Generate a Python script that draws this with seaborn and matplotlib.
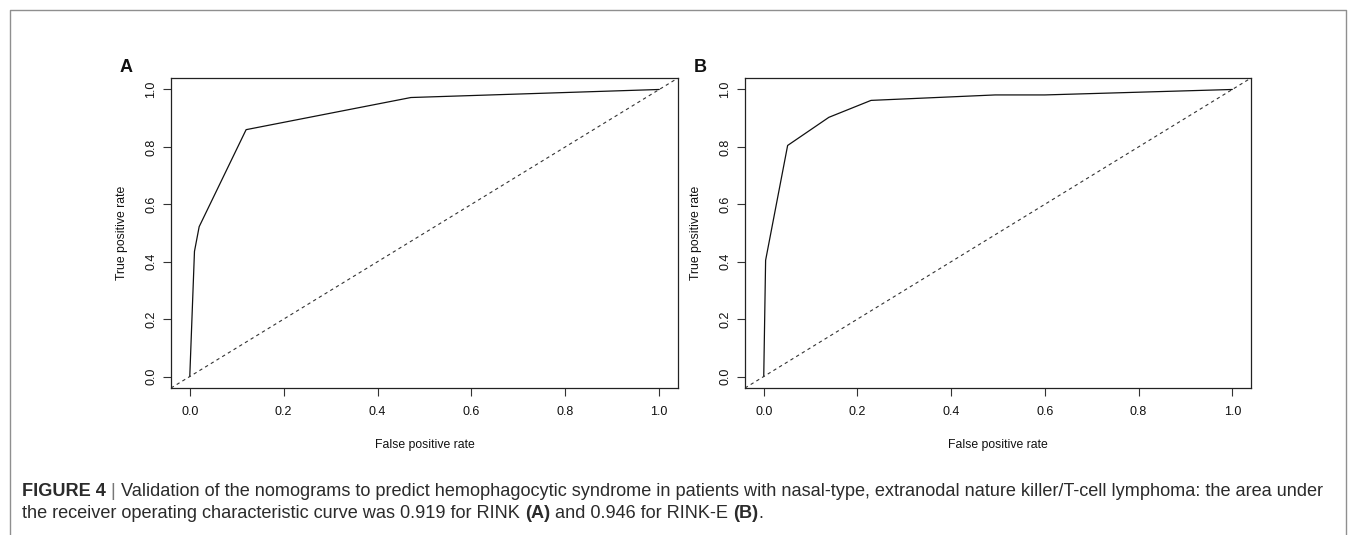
import matplotlib
matplotlib.use('Agg')
import matplotlib.pyplot as plt
import seaborn as sns
import pandas as pd
from matplotlib.lines import Line2D

sns.set_theme(style='white')
plt.rcParams['font.family'] = ['Liberation Sans', 'DejaVu Sans']

# ROC curve values
fpr_a = [0.0, 0.010, 0.020, 0.120, 0.471, 1.0]
tpr_a = [0.0, 0.436, 0.522, 0.860, 0.972, 1.0]

fpr_b = [0.0, 0.004, 0.051, 0.139, 0.229, 0.494, 0.60, 1.0]
tpr_b = [0.0, 0.405, 0.805, 0.903, 0.962, 0.981, 0.981, 1.0]

chance = [0.0, 1.0]
ticks = [0.0, 0.2, 0.4, 0.6, 0.8, 1.0]
panel_labels = ['A', 'B']

TEXT_DARK = '#2b2b2b'
FRAME_GRAY = '#8f8f8f'

W, H = 1355, 535
fig = plt.figure(figsize=(W / 100, H / 100), dpi=100)

# axes boxes in pixels: left, right, top, bottom
boxes = [(171, 678, 78, 388), (745, 1251, 78, 388)]
curves = [(fpr_a, tpr_a), (fpr_b, tpr_b)]

for (l, r, t, b), (fx, ty), lab in zip(boxes, curves, panel_labels):
    ax = fig.add_axes([l / W, 1 - b / H, (r - l) / W, (b - t) / H])
    df = pd.DataFrame({'fpr': fx, 'tpr': ty})
    sns.lineplot(data=df, x='fpr', y='tpr', ax=ax, sort=False, estimator=None,
                 color='#111111', lw=0.9)
    ax.axline((chance[0], chance[0]), (chance[1], chance[1]), color='#333333',
              lw=0.8, linestyle=(0, (3, 3)))
    ax.set_xlim(-0.04, 1.04)
    ax.set_ylim(-0.04, 1.04)
    ax.set_xticks(ticks)
    ax.set_yticks(ticks)
    ax.set_xticklabels([f"{v:.1f}" for v in ticks])
    ax.set_yticklabels([f"{v:.1f}" for v in ticks], rotation=90, va='center')
    ax.tick_params(axis='both', direction='out', length=6, width=0.8,
                   color='#333333', labelsize=9, labelcolor='#111111', pad=4,
                   bottom=True, left=True)
    ax.tick_params(axis='x', pad=7)
    for sp in ax.spines.values():
        sp.set_color('#222222')
        sp.set_linewidth(0.9)
    ax.set_xlabel('False positive rate', fontsize=8.8, color='#111111', labelpad=15)
    ax.set_ylabel('True positive rate', fontsize=8.8, color='#111111', labelpad=12)
    ax.grid(False)
    fig.text((l - 51) / W, 1 - 68 / H, lab, fontsize=13, fontweight='bold',
             color='#111111', va='center', ha='left')

# outer frame (left, top, right)
x0, x1, y0 = 10 / W, 1346 / W, 1 - 10 / H
fig.add_artist(Line2D([x0, x0, x1, x1], [0, y0, y0, 0], color=FRAME_GRAY, lw=1.0,
                      transform=fig.transFigure))

# caption with mixed bold pieces
renderer = fig.canvas.get_renderer()


def caption_line(pieces, x_px, y_px, size=13.1):
    x = x_px
    for txt, bold, col in pieces:
        t = fig.text(x / W, 1 - y_px / H, txt, fontsize=size,
                     fontweight='bold' if bold else 'normal', color=col,
                     ha='left', va='center')
        x += t.get_window_extent(renderer=renderer).width


caption_line([
    ('FIGURE 4', True, TEXT_DARK),
    (' | ', False, '#777777'),
    ('Validation of the nomograms to predict hemophagocytic syndrome in patients with '
     'nasal-type, extranodal nature killer/T-cell lymphoma: the area under', False, TEXT_DARK),
], 22, 491)
caption_line([
    ('the receiver operating characteristic curve was 0.919 for RINK ', False, TEXT_DARK),
    ('(A)', True, TEXT_DARK),
    (' and 0.946 for RINK-E ', False, TEXT_DARK),
    ('(B)', True, TEXT_DARK),
    ('.', False, TEXT_DARK),
], 22, 514)

fig.savefig('out.png', dpi=100, facecolor='white')
